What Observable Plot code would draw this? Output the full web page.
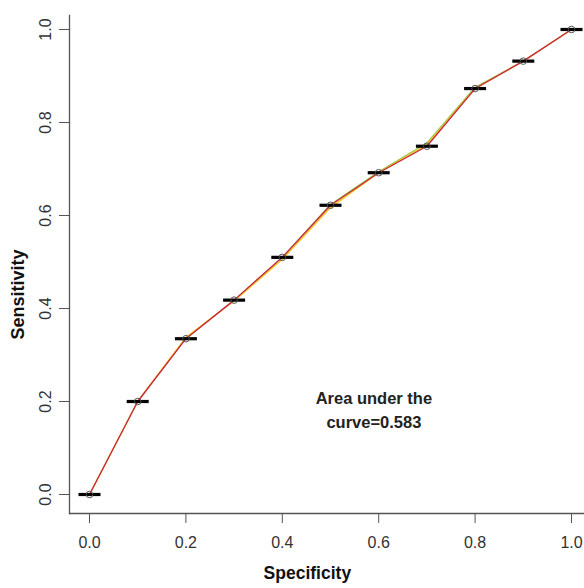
<!DOCTYPE html>
<html>
<head>
<meta charset="utf-8">
<script src="https://cdn.jsdelivr.net/npm/d3@7"></script>
<script src="https://cdn.jsdelivr.net/npm/@observablehq/plot@0.6"></script>
<style>
  html, body { margin: 0; padding: 0; background: #fff; }
  svg { display: block; }
</style>
</head>
<body>
<div id="chart"></div>
<script>
const specificity = [0.0, 0.1, 0.2, 0.3, 0.4, 0.5, 0.6, 0.7, 0.8, 0.9, 1.0];
const sensitivity = [0.0, 0.200, 0.335, 0.418, 0.510, 0.622, 0.692, 0.749, 0.873, 0.932, 1.0];
const sensitivityYellow = [0.0, 0.200, 0.338, 0.416, 0.506, 0.617, 0.692, 0.752, 0.873, 0.932, 1.0];
const sensitivityGreen = [0.0, 0.200, 0.335, 0.418, 0.510, 0.624, 0.694, 0.756, 0.876, 0.932, 1.0];
const xTicks = [0, 0.2, 0.4, 0.6, 0.8, 1.0];
const yTicks = [0, 0.2, 0.4, 0.6, 0.8, 1.0];
const aucLines = ["Area under the", "curve=0.583"];

const pts = specificity.map((x, i) => ({x, y: sensitivity[i]}));
const yel = specificity.map((x, i) => ({x, y: sensitivityYellow[i]}));
const grn = specificity.map((x, i) => ({x, y: sensitivityGreen[i]}));

const hbar = {draw(context, size) { context.moveTo(-11, 0); context.lineTo(11, 0); }};

const chart = Plot.plot({
  width: 584,
  height: 588,
  marginLeft: 69,
  marginRight: 0,
  marginTop: 15,
  marginBottom: 75,
  style: {fontFamily: "'Liberation Sans', Arial, sans-serif", fontSize: "16px", color: "#333", background: "#fff"},
  x: {type: "linear", domain: [0, 1], insetLeft: 20, insetRight: 13},
  y: {type: "linear", domain: [0, 1], insetTop: 14, insetBottom: 19},
  marks: [
    Plot.frame({anchor: "left", stroke: "#555", strokeWidth: 1.3}),
    Plot.frame({anchor: "bottom", stroke: "#555", strokeWidth: 1.3}),
    Plot.axisX({ticks: xTicks, tickFormat: d3.format(".1f"), tickSize: 10, tickPadding: 13, stroke: "#555", fill: "#333", fontSize: 16, label: null}),
    Plot.axisY({ticks: yTicks, tickFormat: d3.format(".1f"), tickSize: 10, tickPadding: 9, tickRotate: -90, stroke: "#555", fill: "#333", fontSize: 16, label: null}),
    Plot.line(grn, {x: "x", y: "y", stroke: "#8cc63f", strokeWidth: 1.1}),
    Plot.line(yel, {x: "x", y: "y", stroke: "#f5c518", strokeWidth: 1.4}),
    Plot.line(pts, {x: "x", y: "y", stroke: "#c92645", strokeWidth: 1.3}),
    Plot.dot(pts, {x: "x", y: "y", symbol: hbar, r: 5, stroke: "#000", strokeWidth: 3.2, fill: "none"}),
    Plot.dot(pts, {x: "x", y: "y", r: 3.3, stroke: "#555", strokeWidth: 1, fill: "none"}),
    Plot.text(aucLines, {x: () => 0.59, y: (d, i) => 0.205 - i * 0.05, text: d => d, fontSize: 16.5, fontWeight: "bold", fill: "#222", textAnchor: "middle"}),
    Plot.text(["Specificity"], {x: () => 0.452, frameAnchor: "bottom", dy: 65, text: d => d, fontSize: 17.5, fontWeight: "bold", fill: "#111"}),
    Plot.text(["Sensitivity"], {y: () => 0.43, frameAnchor: "left", textAnchor: "middle", dx: -51, rotate: -90, text: d => d, fontSize: 18, fontWeight: "bold", fill: "#111"})
  ]
});
document.getElementById("chart").appendChild(chart);
</script>
</body>
</html>
